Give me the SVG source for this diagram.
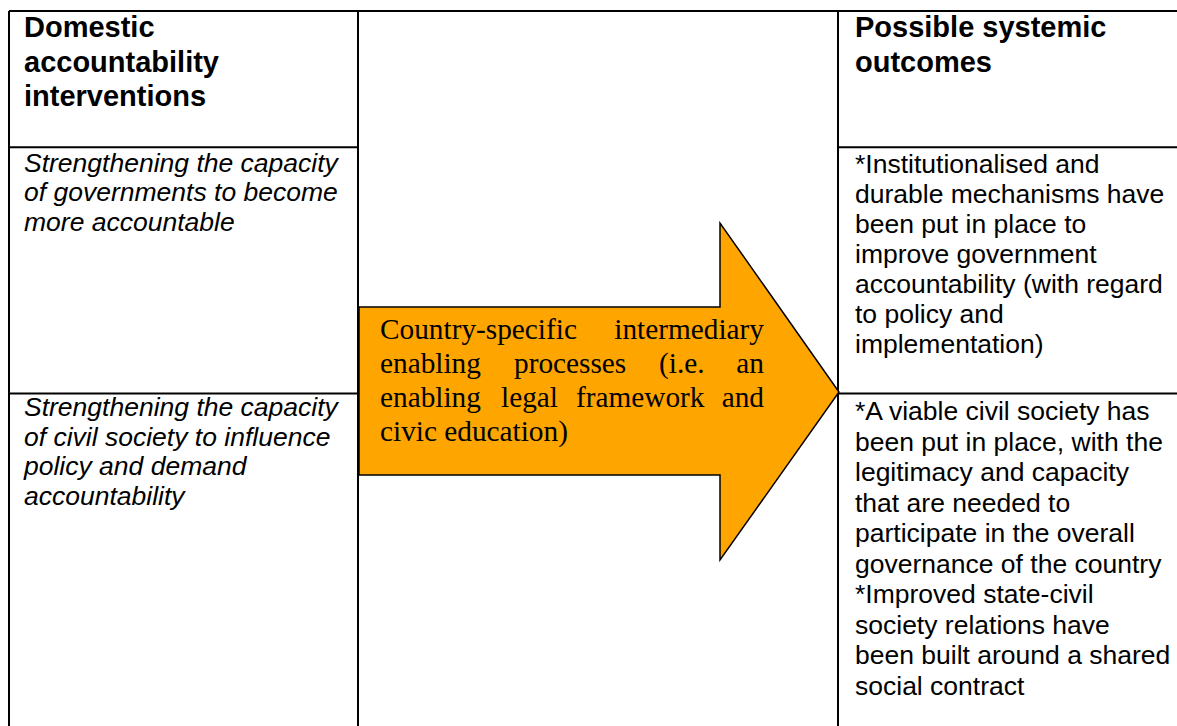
<svg xmlns="http://www.w3.org/2000/svg" width="1177" height="726" viewBox="0 0 1177 726">
<style>
.ln{stroke:#000;stroke-width:2;fill:none}
.hd{font-family:"Liberation Sans",Arial,sans-serif;font-weight:bold;font-size:29px;fill:#000}
.bd{font-family:"Liberation Sans",Arial,sans-serif;font-size:26.5px;fill:#000}
.it{font-family:"Liberation Sans",Arial,sans-serif;font-style:italic;font-size:26.5px;fill:#000}
.tm{font-family:"Liberation Serif","Times New Roman",serif;font-size:29.3px;fill:#000}
.arrow{fill:#FFA500;stroke:#000;stroke-width:1.5;stroke-linejoin:miter}
</style>
<rect width="1177" height="726" fill="#fff"/>
<g id="connectors">
<path class="ln" d="M9 11H1177M9 11V726M358 11V726M838 11V726M9 147.3H358M838 147.3H1177M9 393.5H358M838 393.5H1177"/>
</g>
<g id="header-left">
<text class="hd" x="24" y="37.3">Domestic</text>
<text class="hd" x="24" y="71.8">accountability</text>
<text class="hd" x="24" y="106.2">interventions</text>
</g>
<g id="header-right">
<text class="hd" x="855" y="37.3">Possible systemic</text>
<text class="hd" x="855" y="71.8">outcomes</text>
</g>
<g id="intervention-government">
<text class="it" x="24" y="171.7">Strengthening the capacity</text>
<text class="it" x="24" y="201.2">of governments to become</text>
<text class="it" x="24" y="230.7">more accountable</text>
</g>
<g id="intervention-civil-society">
<text class="it" x="24" y="416.3">Strengthening the capacity</text>
<text class="it" x="24" y="445.8">of civil society to influence</text>
<text class="it" x="24" y="475.3">policy and demand</text>
<text class="it" x="24" y="504.8">accountability</text>
</g>
<g id="outcome-government">
<text class="bd" x="855" y="173.3">*Institutionalised and</text>
<text class="bd" x="855" y="203.3">durable mechanisms have</text>
<text class="bd" x="855" y="233.3">been put in place to</text>
<text class="bd" x="855" y="263.3">improve government</text>
<text class="bd" x="855" y="293.3">accountability (with regard</text>
<text class="bd" x="855" y="323.3">to policy and</text>
<text class="bd" x="855" y="353.3">implementation)</text>
</g>
<g id="outcome-civil-society">
<text class="bd" x="855" y="420">*A viable civil society has</text>
<text class="bd" x="855" y="450.5">been put in place, with the</text>
<text class="bd" x="855" y="481">legitimacy and capacity</text>
<text class="bd" x="855" y="511.5">that are needed to</text>
<text class="bd" x="855" y="542">participate in the overall</text>
<text class="bd" x="855" y="572.5">governance of the country</text>
<text class="bd" x="855" y="603">*Improved state-civil</text>
<text class="bd" x="855" y="633.5">society relations have</text>
<text class="bd" x="855" y="664">been built around a shared</text>
<text class="bd" x="855" y="694.5">social contract</text>
</g>
<g id="enabling-processes-arrow">
<polygon class="arrow" points="359,307 720,307 720,223 839,392 720,560 720,475 359,475"/>
<text class="tm" x="380" y="339">Country-specific</text>
<text class="tm" x="764" y="339" text-anchor="end">intermediary</text>
<text class="tm" x="380" y="373">enabling</text>
<text class="tm" x="514" y="373">processes</text>
<text class="tm" x="659" y="373">(i.e.</text>
<text class="tm" x="764" y="373" text-anchor="end">an</text>
<text class="tm" x="380" y="407">enabling</text>
<text class="tm" x="501" y="407">legal</text>
<text class="tm" x="576" y="407">framework</text>
<text class="tm" x="764" y="407" text-anchor="end">and</text>
<text class="tm" x="380" y="441">civic education)</text>
</g>
</svg>
